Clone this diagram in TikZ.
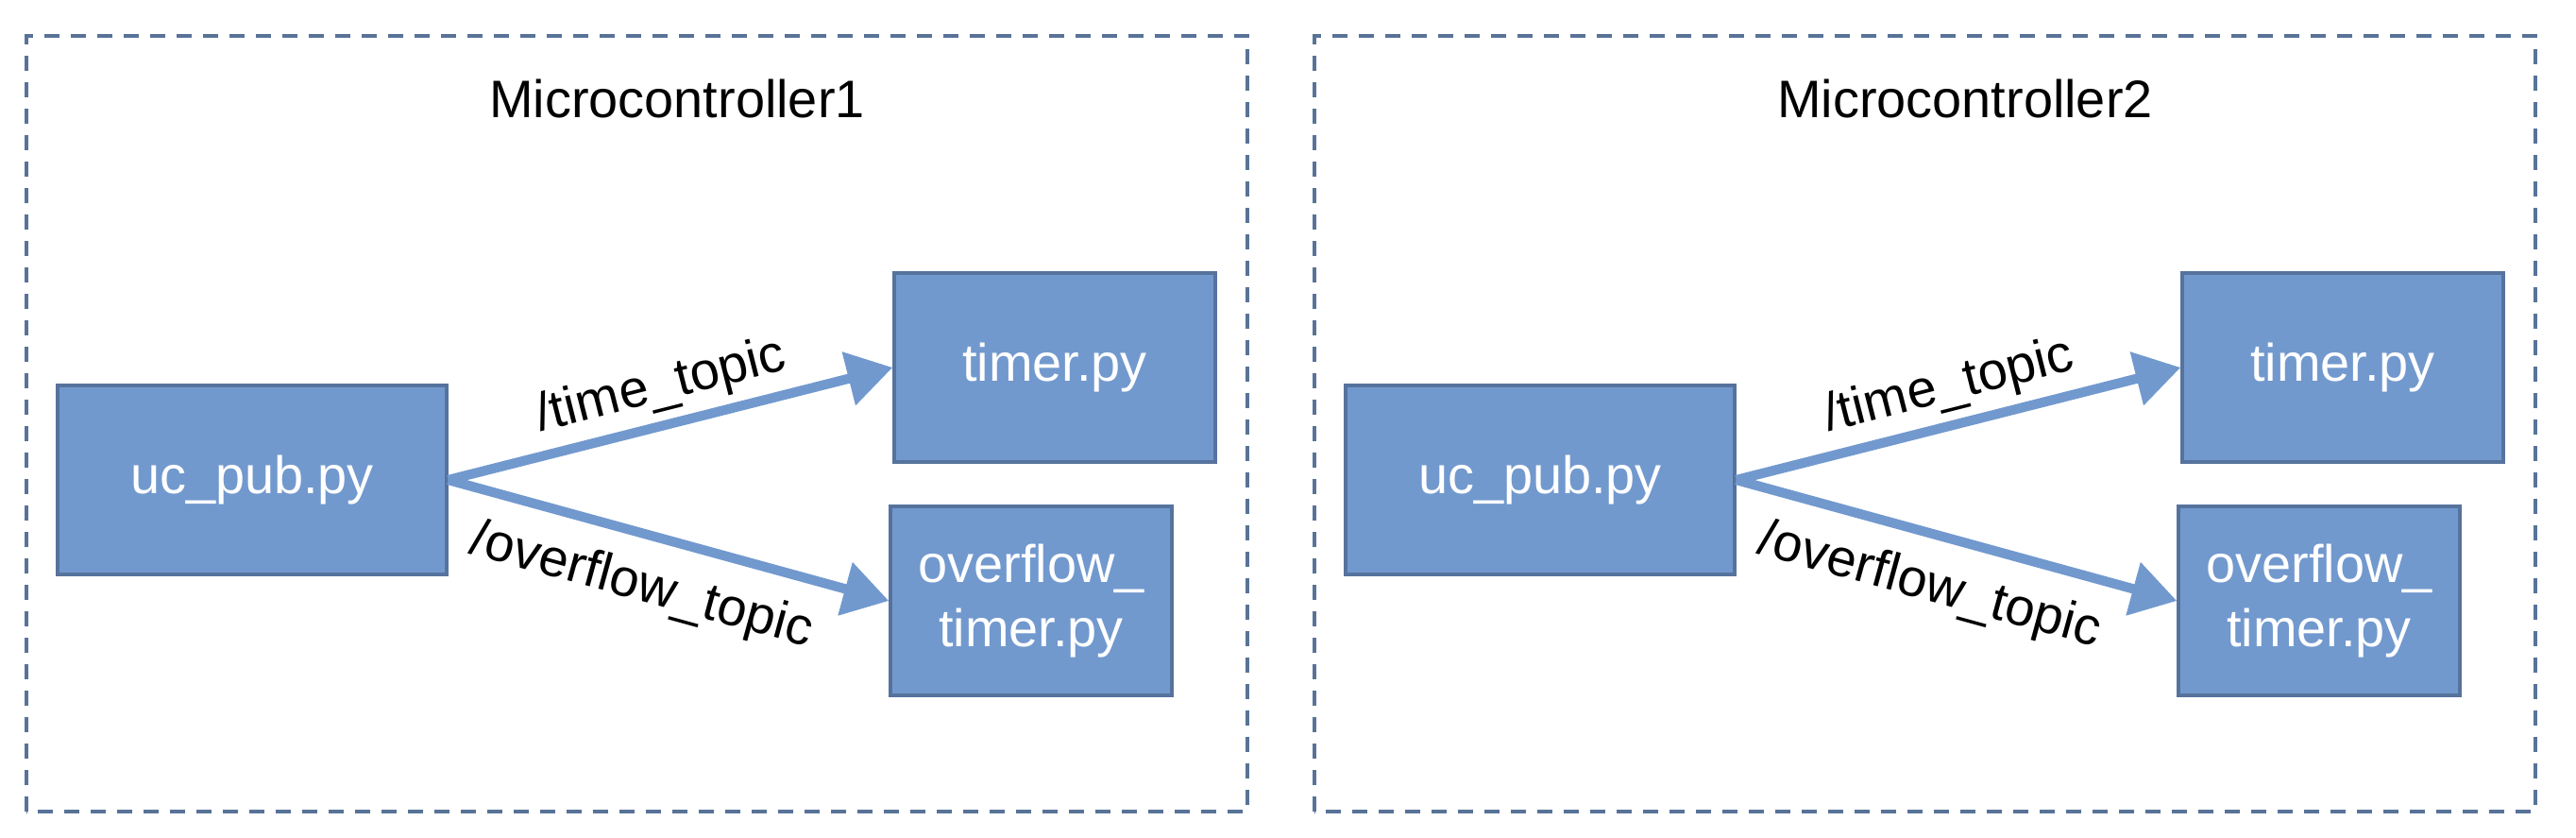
\documentclass[tikz,border=0pt]{standalone}
\usepackage{fontspec}
\setmainfont{Liberation Sans}
\usetikzlibrary{arrows.meta}
\definecolor{boxfill}{HTML}{7299CE}
\definecolor{boxline}{HTML}{56739D}
\definecolor{frameline}{HTML}{587397}

\begin{document}
\begin{tikzpicture}[
    font=\fontsize{15.9}{19.1}\selectfont,
    prog/.style={draw=boxline, line width=0.95pt, fill=boxfill, text=white,
      align=center, inner sep=0pt, minimum height=2.0cm},
    topic/.style={color=boxfill, line width=2.9pt,
      -{Triangle[length=0.48cm,width=0.56cm]}},
    frame/.style={draw=frameline, line width=1.13pt, dash pattern=on 0.16cm off 0.12cm}
  ]
  \useasboundingbox (0,0) rectangle (27.28,8.86);

  \begin{scope}
    \draw[frame] (0.28,0.27) rectangle (13.21,8.48);
    \node[anchor=base] (mcA) at (7.17,7.61) {Microcontroller1};
    \node[prog, minimum width=4.12cm] (pubA) at (2.67,3.78) {uc\_pub.py};
    \node[prog, minimum width=3.40cm] (timA) at (11.17,4.97) {timer.py};
    \node[prog, minimum width=2.98cm] (ovfA) at (10.92,2.50) {overflow\_\\timer.py};
    \draw[topic] (pubA.east) -- node[sloped, above, inner sep=2.5pt, text=black] {/time\_topic} (timA.west);
    \draw[topic] (pubA.east) -- node[sloped, below, pos=0.47, inner sep=6.8pt, text=black] {/overflow\_topic} (ovfA.west);
  \end{scope}

  \begin{scope}[shift={(13.64,0)}]
    \draw[frame] (0.28,0.27) rectangle (13.21,8.48);
    \node[anchor=base] (mcB) at (7.17,7.61) {Microcontroller2};
    \node[prog, minimum width=4.12cm] (pubB) at (2.67,3.78) {uc\_pub.py};
    \node[prog, minimum width=3.40cm] (timB) at (11.17,4.97) {timer.py};
    \node[prog, minimum width=2.98cm] (ovfB) at (10.92,2.50) {overflow\_\\timer.py};
    \draw[topic] (pubB.east) -- node[sloped, above, inner sep=2.5pt, text=black] {/time\_topic} (timB.west);
    \draw[topic] (pubB.east) -- node[sloped, below, pos=0.47, inner sep=6.8pt, text=black] {/overflow\_topic} (ovfB.west);
  \end{scope}
\end{tikzpicture}
\end{document}
